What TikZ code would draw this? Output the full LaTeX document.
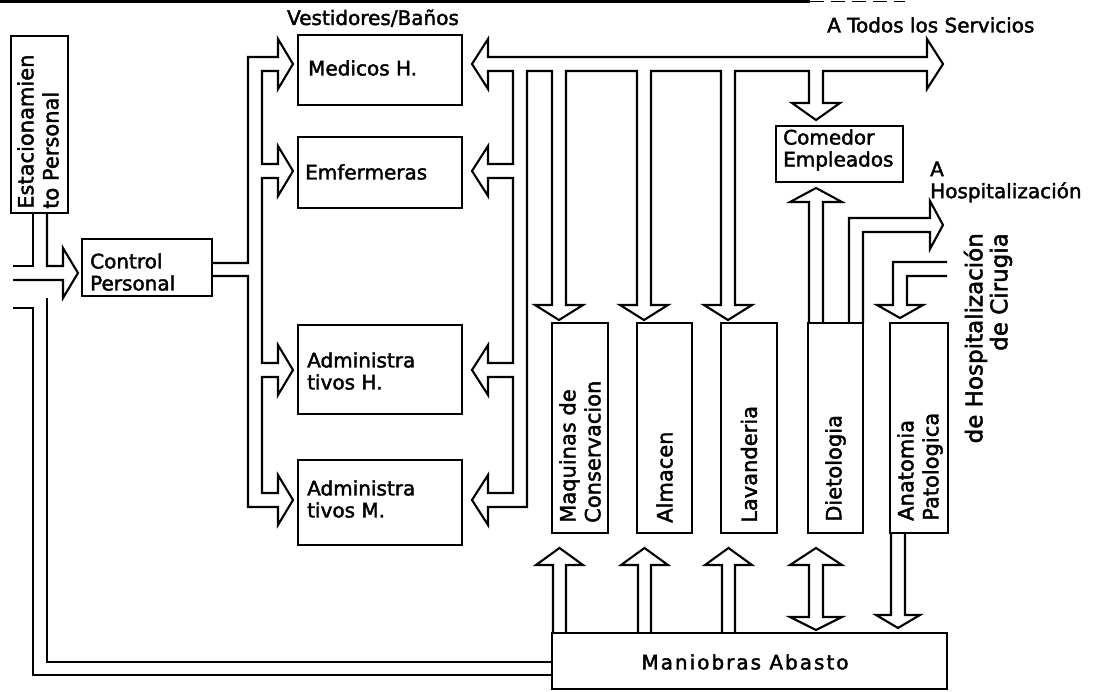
\documentclass[tikz,border=0pt]{standalone}
\usepackage{fontspec}
\setmainfont{DejaVu Sans}[UprightFeatures={FakeBold=2}]
\begin{document}
\begin{tikzpicture}[x=1pt,y=-1pt,
  box/.style={draw, line width=2.1pt, inner sep=0pt},
  pipe/.style={line width=2.1pt, line join=miter},
  lbl/.style={inner sep=0pt, align=left, font=\fontsize{20}{22}\selectfont},
  vlbl/.style={inner sep=0pt, align=left, rotate=90, anchor=west, font=\fontsize{21}{25}\selectfont}]
\useasboundingbox (0,0) rectangle (1096,692);

% sheet edge
\draw[line width=2.5pt] (0,1.5) -- (810,1.5);
\draw[line width=1.5pt, dash pattern=on 14pt off 7pt] (810,1.5) -- (905,1.5);

% rooms
\node[box, minimum width=57pt,  minimum height=177pt] (est) at (39.5,124.5) {};
\node[box, minimum width=130pt, minimum height=57pt]  (ctl) at (147,267.5) {};
\node[box, minimum width=164pt, minimum height=70pt]  (med) at (380,70) {};
\node[box, minimum width=164pt, minimum height=71pt]  (emf) at (380,172.5) {};
\node[box, minimum width=164pt, minimum height=89pt]  (adh) at (380,369.5) {};
\node[box, minimum width=164pt, minimum height=85pt]  (adm) at (380,502.5) {};
\node[box, minimum width=56pt,  minimum height=210pt] (maq) at (580,428) {};
\node[box, minimum width=55pt,  minimum height=210pt] (alm) at (664.5,428) {};
\node[box, minimum width=56pt,  minimum height=210pt] (lav) at (749,428) {};
\node[box, minimum width=55pt,  minimum height=210pt] (die) at (835.5,428) {};
\node[box, minimum width=58pt,  minimum height=210pt] (ana) at (919,428) {};
\node[box, minimum width=127pt, minimum height=56pt]  (com) at (839.5,154) {};
\node[box, minimum width=395pt, minimum height=56pt]  (man) at (749.5,661) {};

% entrance from the left into Control Personal, joined by the parking branch
\draw[pipe] (13,266) -- (33,266) -- (33,213);
\draw[pipe] (47,213) -- (47,266) -- (63,266) -- (63,248) -- (78,273) -- (63,298) -- (63,280) -- (13,280);

% service corridor along the left and bottom to Maniobras
\draw[pipe] (13,308) -- (33,308) -- (33,675) -- (552,675);
\draw[pipe] (47,298) -- (47,662) -- (552,662);

% Control Personal to the dressing rooms
\draw[pipe] (212,263) -- (248,263) -- (248,57)
  -- (278,57) -- (278,39) -- (293,64) -- (278,89) -- (278,71)
  -- (262,71) -- (262,164)
  -- (278,164) -- (278,146) -- (293,171) -- (278,196) -- (278,178)
  -- (262,178) -- (262,363)
  -- (278,363) -- (278,345) -- (293,370) -- (278,395) -- (278,377)
  -- (262,377) -- (262,493)
  -- (278,493) -- (278,475) -- (293,500) -- (278,525) -- (278,507)
  -- (248,507) -- (248,276) -- (212,276);

% dressing rooms to the services and the main corridor
\draw[pipe] (927,57) -- (488,57)
  -- (488,39) -- (472,64) -- (488,89) -- (488,71)
  -- (513,71) -- (513,164)
  -- (488,164) -- (488,146) -- (472,171) -- (488,196) -- (488,178)
  -- (513,178) -- (513,363)
  -- (488,363) -- (488,345) -- (472,370) -- (488,395) -- (488,377)
  -- (513,377) -- (513,493)
  -- (488,493) -- (488,475) -- (472,500) -- (488,525) -- (488,507)
  -- (527,507) -- (527,71) -- (552,71)
  -- (552,305) -- (535,305) -- (559,320) -- (583,305) -- (566,305) -- (566,71)
  -- (637,71)
  -- (637,305) -- (620,305) -- (644,320) -- (668,305) -- (651,305) -- (651,71)
  -- (721,71)
  -- (721,305) -- (704,305) -- (728,320) -- (752,305) -- (735,305) -- (735,71)
  -- (809,71)
  -- (809,103) -- (792,103) -- (816,120) -- (840,103) -- (823,103) -- (823,71)
  -- (927,71) -- (927,89) -- (943,64) -- (927,39) -- cycle;

% Dietologia to Comedor and to Hospitalizacion
\draw[pipe] (809,323) -- (809,202) -- (790,202) -- (816,188) -- (842,202) -- (823,202) -- (823,323);
\draw[pipe] (849,323) -- (849,218) -- (930,218) -- (930,201) -- (943,225) -- (930,249) -- (930,232) -- (863,232) -- (863,323);

% from Hospitalizacion de Cirugia into Anatomia Patologica
\draw[pipe] (947,262) -- (893,262) -- (893,305) -- (877,305) -- (900,318) -- (923,305) -- (907,305) -- (907,276) -- (947,276);

% Maniobras Abasto to the service rooms
\draw[pipe] (553,633) -- (553,565) -- (536,565) -- (559.5,548) -- (583,565) -- (566,565) -- (566,633);
\draw[pipe] (638,633) -- (638,565) -- (621,565) -- (644.5,548) -- (668,565) -- (651,565) -- (651,633);
\draw[pipe] (722,633) -- (722,565) -- (705,565) -- (728.5,548) -- (752,565) -- (735,565) -- (735,633);
\draw[pipe] (809,617) -- (809,565) -- (790,565) -- (816,548) -- (842,565) -- (823,565) -- (823,617) -- (842,617) -- (816,630) -- (790,617) -- cycle;
\draw[pipe] (891,533) -- (891,615) -- (876,615) -- (898,628) -- (920,615) -- (905,615) -- (905,533);

% labels
\node[lbl, anchor=base] (tvest) at (373,25) {Vestidores/Baños};
\node[lbl, anchor=west] (ttodos) at (827,25) {A Todos los Servicios};
\node[lbl, anchor=west] (thosp) at (930,182) {A\\Hospitalización};
\node[lbl, anchor=west] (tmed) at (308,68) {Medicos H.};
\node[lbl, anchor=west] (temf) at (305,172) {Emfermeras};
\node[lbl, anchor=west] (tadh) at (307,371) {Administra\\tivos H.};
\node[lbl, anchor=west] (tadm) at (307,499) {Administra\\tivos M.};
\node[lbl, anchor=west] (tctl) at (90,272) {Control\\Personal};
\node[lbl, anchor=west] (tcom) at (783,150) {Comedor\\Empleados};
\node[lbl] (tman) at (745,662) {\addfontfeature{LetterSpace=10}Maniobras Abasto};

\node[vlbl] (test) at (38,209) {Estacionamien\\to Personal};
\node[vlbl] (tmaq) at (580,523) {Maquinas de\\Conservacion};
\node[vlbl] (talm) at (664.5,523) {Almacen};
\node[vlbl] (tlav) at (749,523) {Lavanderia};
\node[vlbl] (tdie) at (835.5,522) {Dietologia};
\node[vlbl] (tana) at (920,521) {Anatomia\\Patologica};
\node[vlbl, anchor=east, align=right, font=\fontsize{23}{25}\selectfont] (tcir) at (988,233) {de Hospitalización\\de Cirugia};
\end{tikzpicture}
\end{document}
